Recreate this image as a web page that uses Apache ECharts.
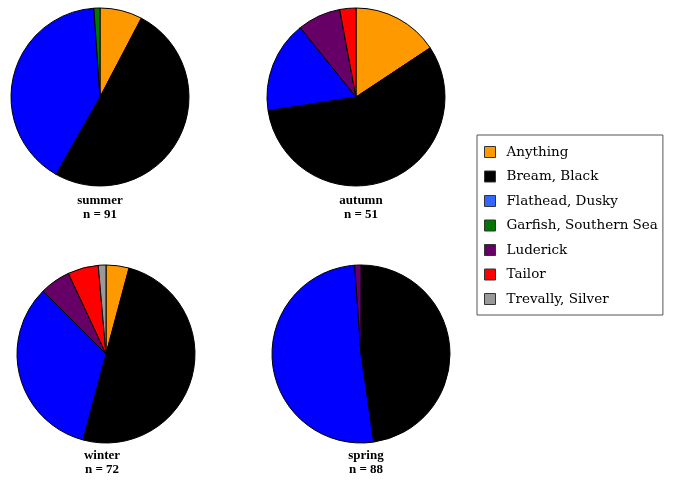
<!DOCTYPE html>
<html lang="en">
<head>
    <meta charset="UTF-8">
    <title>Catch by season</title>
    <script src="https://cdn.jsdelivr.net/npm/echarts@6/dist/echarts.min.js"></script>
    <style>
        html, body { margin: 0; padding: 0; background: #fff; }
    </style>
</head>
<body>
<div id="main" style="width: 675px;height:486px;"></div>
</body>
</html>

<script type="text/javascript">
    // species, in legend order
    var species = ['Anything', 'Bream, Black', 'Flathead, Dusky', 'Garfish, Southern Sea', 'Luderick', 'Tailor', 'Trevally, Silver'];
    // slice colours and legend square colours
    var sliceColors = ['#FF9900', '#000000', '#0000FF', '#007700', '#660066', '#FF0000', '#999999'];
    var legendColors = ['#FF9900', '#000000', '#3366FF', '#007700', '#660066', '#FF0000', '#999999'];

    var seasons = ['summer', 'autumn', 'winter', 'spring'];
    var sampleSizes = [91, 51, 72, 88];

    // counts per species for each season (same order as species)
    var summerCounts = [7, 46, 37, 1, 0, 0, 0];
    var autumnCounts = [8, 29, 8.5, 0, 4, 1.5, 0];
    var winterCounts = [3, 36, 24, 0, 4, 4, 1];
    var springCounts = [0, 42, 45, 0, 1, 0, 0];
    var seasonCounts = [summerCounts, autumnCounts, winterCounts, springCounts];

    var centers = [[100, 97], [356, 97], [106, 354], [361, 354]];
    var labelPos = [[100, 194], [361, 194], [102, 449], [366, 449]];

    var series = [];
    var titles = [];
    for (var s = 0; s < seasons.length; s++) {
        var data = [];
        for (var i = 0; i < species.length; i++) {
            if (seasonCounts[s][i] > 0) {
                data.push({
                    name: species[i],
                    value: seasonCounts[s][i],
                    itemStyle: {color: sliceColors[i]}
                });
            }
        }
        series.push({
            name: seasons[s],
            type: 'pie',
            center: centers[s],
            radius: [0, 89],
            startAngle: 90,
            clockwise: true,
            animation: false,
            label: {show: false},
            labelLine: {show: false},
            emphasis: {disabled: true},
            itemStyle: {borderColor: '#000', borderWidth: 1},
            data: data
        });
        titles.push({
            text: seasons[s] + '\nn = ' + sampleSizes[s],
            left: labelPos[s][0],
            top: labelPos[s][1],
            textAlign: 'center',
            padding: 0,
            textStyle: {
                fontFamily: 'Liberation Serif',
                fontSize: 13,
                fontWeight: 'bold',
                color: '#000',
                lineHeight: 14,
                align: 'center'
            }
        });
    }

    var legendData = [];
    for (var k = 0; k < species.length; k++) {
        legendData.push({name: species[k], itemStyle: {color: legendColors[k]}});
    }

    var myChart = echarts.init(document.getElementById('main'));
    var option = {
        backgroundColor: '#fff',
        title: titles,
        tooltip: {show: false},
        legend: {
            orient: 'vertical',
            left: 477,
            top: 135,
            padding: [10, 5, 9, 7],
            borderColor: '#555',
            borderWidth: 1,
            icon: 'rect',
            itemWidth: 11,
            itemHeight: 11,
            itemGap: 10.5,
            selectedMode: false,
            itemStyle: {borderColor: '#333', borderWidth: 1},
            textStyle: {
                fontFamily: 'DejaVu Serif',
                fontSize: 13.5,
                lineHeight: 14,
                color: '#000',
                padding: [0, 0, 0, 6]
            },
            data: legendData
        },
        series: series
    };
    myChart.setOption(option);
</script>
